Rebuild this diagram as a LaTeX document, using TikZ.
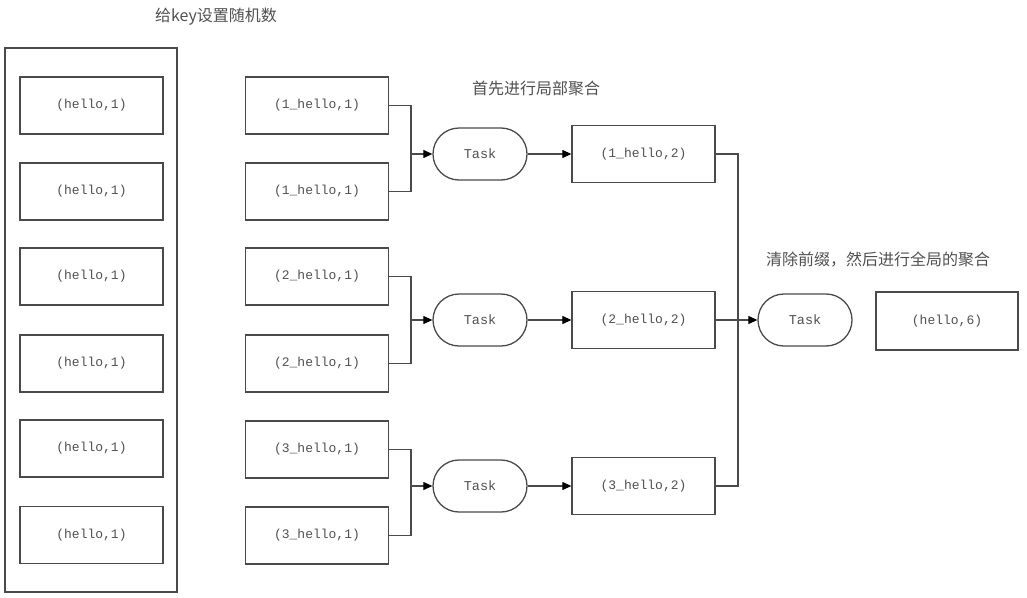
\documentclass[tikz,border=0pt]{standalone}
\usepackage{fontspec}
\setmonofont{Liberation Mono}
\newfontfamily\cjk{Noto Sans CJK SC}
\usetikzlibrary{arrows.meta}
\definecolor{ln}{HTML}{4A4A4A}
\definecolor{tx}{HTML}{505050}
\begin{document}
\begin{tikzpicture}[x=1pt,y=-1pt,
  box/.style={draw=ln,line width=1.3pt,minimum width=143pt,minimum height=57pt,inner sep=0pt,
     font=\ttfamily\fontsize{13}{15}\selectfont,text=tx},
  task/.style={draw=ln,line width=1.3pt,minimum width=94pt,minimum height=52pt,inner sep=0pt,
     rounded corners=26pt,font=\ttfamily\fontsize{13.5}{15}\selectfont,text=tx},
  lbl/.style={font=\cjk\fontsize{16}{19}\selectfont,text=tx,inner sep=0pt},
  wire/.style={draw=ln,line width=1.1pt},
  arr/.style={wire,-{Triangle[length=9pt,width=8pt,fill=black,color=black]}}]
\useasboundingbox (0,0) rectangle (1027,597);
\node[draw=ln,line width=1.3pt,minimum width=172pt,minimum height=544pt,inner sep=0pt] (outer) at (91,320) {};
\node[lbl] (t0) at (216,17) {给key设置随机数};
\node[lbl] (t1) at (536,88) {首先进行局部聚合};
\node[lbl] (t2) at (878,260) {清除前缀，然后进行全局的聚合};
\foreach \i/\y in {1/105.5,2/191.5,3/276.5,4/363.5,5/448.5,6/535}{
  \node[box] (a\i) at (91.5,\y) {(hello,1)};
}
\node[box] (b1) at (317,105.5) {(1\_hello,1)};
\node[box] (b2) at (317,191.5) {(1\_hello,1)};
\node[box] (b3) at (317,276.5) {(2\_hello,1)};
\node[box] (b4) at (317,363.5) {(2\_hello,1)};
\node[box] (b5) at (317,449.5) {(3\_hello,1)};
\node[box] (b6) at (317,535.5) {(3\_hello,1)};
\node[task] (k1) at (480,154) {Task};
\node[task] (k2) at (480,320) {Task};
\node[task] (k3) at (480,486) {Task};
\node[box] (o1) at (643.5,154) {(1\_hello,2)};
\node[box] (o2) at (643.5,320) {(2\_hello,2)};
\node[box] (o3) at (643.5,486) {(3\_hello,2)};
\node[task] (kf) at (805,320) {Task};
\node[box,minimum width=142pt,minimum height=58pt] (res) at (947,321) {(hello,6)};
\coordinate (j1) at (411,154);
\coordinate (j2) at (411,320);
\coordinate (j3) at (411,486);
\coordinate (jr) at (738,320);
\draw[wire] (b1.east) -| (j1);
\draw[wire] (b2.east) -| (j1);
\draw[wire] (b3.east) -| (j2);
\draw[wire] (b4.east) -| (j2);
\draw[wire] (b5.east) -| (j3);
\draw[wire] (b6.east) -| (j3);
\draw[arr] (j1) -- (k1.west);
\draw[arr] (j2) -- (k2.west);
\draw[arr] (j3) -- (k3.west);
\draw[arr] (k1.east) -- (o1.west);
\draw[arr] (k2.east) -- (o2.west);
\draw[arr] (k3.east) -- (o3.west);
\draw[wire] (o1.east) -| (jr);
\draw[wire] (o3.east) -| (jr);
\draw[arr] (o2.east) -- (kf.west);
\end{tikzpicture}
\end{document}
